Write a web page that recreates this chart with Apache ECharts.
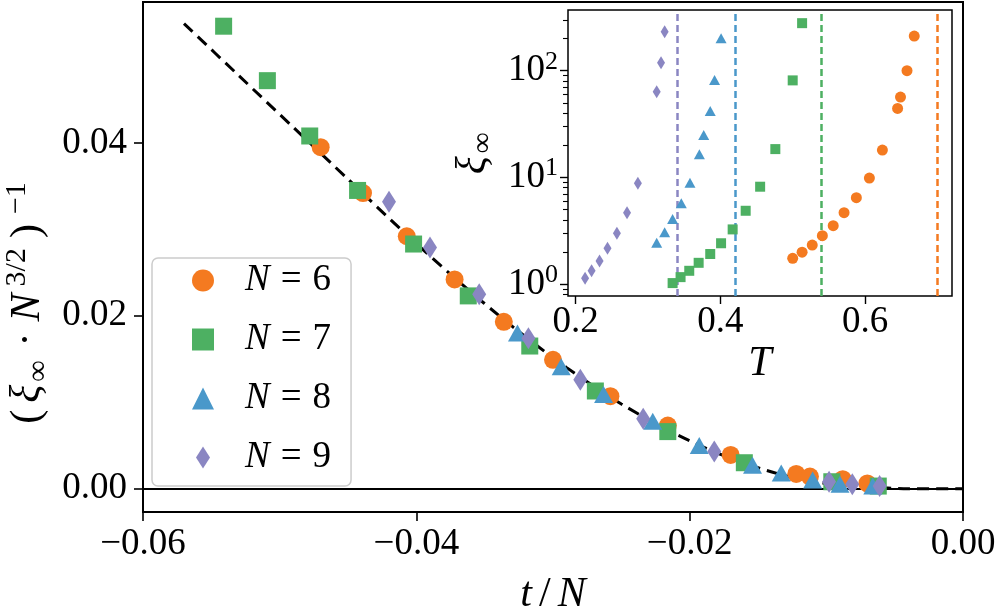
<!DOCTYPE html>
<html><head><meta charset="utf-8">
<script src="https://cdn.jsdelivr.net/npm/echarts@6/dist/echarts.min.js"></script>
<style>html,body{margin:0;padding:0;background:#fff}#c{width:997px;height:611px}</style>
</head><body><div id="c"></div>
<script>
// ---------------- data ----------------
const seriesNames = ['N = 6', 'N = 7', 'N = 8', 'N = 9'];
const colors = ['#F47A20', '#4DB062', '#4A98CA', '#8A86C2'];

// main panel: t/N  vs  (xi_inf * N^{3/2})^{-1}
const tN_6  = [-0.0470, -0.0439, -0.0407, -0.0372, -0.0336, -0.0300, -0.0258, -0.0216, -0.0170, -0.0122, -0.0112, -0.0088, -0.0070];
const inv_6 = [0.0395, 0.0342, 0.0292, 0.0242, 0.0193, 0.0149, 0.0107, 0.0073, 0.0039, 0.0017, 0.0014, 0.0011, 0.0006];
const tN_7  = [-0.0541, -0.0509, -0.0478, -0.0443, -0.0402, -0.0362, -0.0317, -0.0269, -0.0216, -0.0160, -0.0096, -0.0062];
const inv_7 = [0.0535, 0.0472, 0.0408, 0.0345, 0.0283, 0.0223, 0.0165, 0.0113, 0.0066, 0.0030, 0.0008, 0.0003];
const tN_8  = [-0.0326, -0.0294, -0.0263, -0.0227, -0.0193, -0.0154, -0.0133, -0.0110, -0.0090, -0.0066];
const inv_8 = [0.0180, 0.0141, 0.0109, 0.0078, 0.0050, 0.0027, 0.0018, 0.0010, 0.0005, 0.0003];
const tN_9  = [-0.0420, -0.0390, -0.0354, -0.0318, -0.0280, -0.0234, -0.0182, -0.0098, -0.0081, -0.0061];
const inv_9 = [0.0332, 0.0279, 0.0225, 0.0174, 0.0126, 0.0081, 0.0043, 0.0008, 0.0005, 0.0003];

// dashed collapse curve
const curveX = [-0.0570, -0.0530, -0.0490, -0.0450, -0.0410, -0.0370, -0.0330, -0.0290, -0.0250, -0.0210, -0.0170, -0.0130, -0.0100, -0.0070, -0.0040, 0.0];
const curveY = [0.0538, 0.0478, 0.0418, 0.0358, 0.0298, 0.0241, 0.0188, 0.0140, 0.0098, 0.0063, 0.0035, 0.0015, 0.0006, 0.0002, 0.0000, 0.0];

// inset: T vs xi_inf (log scale)
const T_6  = [0.500, 0.513, 0.527, 0.541, 0.556, 0.571, 0.588, 0.606, 0.624, 0.645, 0.649, 0.658, 0.668];
const xi_6 = [1.74, 1.99, 2.32, 2.84, 3.52, 4.66, 6.44, 9.85, 18.0, 44.3, 56.6, 100, 211];
const T_7  = [0.334, 0.345, 0.357, 0.370, 0.386, 0.401, 0.417, 0.435, 0.455, 0.476, 0.500, 0.513];
const xi_7 = [1.02, 1.16, 1.33, 1.58, 1.91, 2.41, 3.25, 4.86, 8.17, 18.4, 81.1, 279];
const T_8  = [0.312, 0.323, 0.334, 0.346, 0.358, 0.371, 0.377, 0.386, 0.392, 0.401];
const xi_8 = [2.44, 3.05, 4.07, 5.71, 8.90, 16.5, 24.9, 41.8, 81.6, 201];
const T_9  = [0.213, 0.222, 0.233, 0.244, 0.257, 0.271, 0.286, 0.312, 0.318, 0.323];
const xi_9 = [1.13, 1.33, 1.64, 2.16, 2.99, 4.66, 8.79, 63.4, 118.6, 231.5];
const Tc   = [0.6957, 0.5359, 0.4216, 0.3418];

// ticks
const mainXTicks = [-0.06, -0.04, -0.02, 0.0];
const mainYTicks = [0.0, 0.02, 0.04];
const insetXTicks = [0.2, 0.4, 0.6];
const insetYDecades = [1, 10, 100];
const insetYMinor = [0.8, 0.9, 2, 3, 4, 5, 6, 7, 8, 9, 20, 30, 40, 50, 60, 70, 80, 90, 200, 300];

// ---------------- build ----------------
const FF = 'Liberation Serif';
const FS = 37;
const mainX = [tN_6, tN_7, tN_8, tN_9];
const mainY = [inv_6, inv_7, inv_8, inv_9];
const insT = [T_6, T_7, T_8, T_9];
const insXi = [xi_6, xi_7, xi_8, xi_9];
const symbols = ['circle', 'rect', 'triangle', 'diamond'];
const mainSize = [18, 17, [19, 17], [14, 22]];
const insetSize = [11, 10, [11, 10], [8, 13]];
const lg = v => Math.log10(v);
const minus = s => s.replace('-', '\u2212');

const base = {fontFamily: FF, fontSize: FS, color: '#000'};
function richSet(fs, ss, lh, gap) {
  return {
    n: {fontFamily: FF, fontSize: fs, color: '#000', lineHeight: lh},
    e: {fontFamily: FF, fontSize: fs, color: '#000', lineHeight: lh, padding: [0, 11, 0, 9]},
    sl: {fontFamily: FF, fontSize: fs, color: '#000', lineHeight: lh, padding: [0, 5, 0, 5]},
    d: {fontFamily: FF, fontSize: fs, color: '#000', lineHeight: lh, padding: [0, gap + 4, 0, gap + 4]},
    p: {fontFamily: FF, fontSize: fs, color: '#000', lineHeight: lh, padding: [0, gap, 0, gap]},
    i: {fontFamily: FF, fontSize: fs, fontStyle: 'italic', color: '#000', lineHeight: lh, padding: [0, 2, 0, 2]},
    sup: {fontFamily: FF, fontSize: ss, color: '#000', lineHeight: ss, verticalAlign: 'top', padding: [0, gap, 0, gap]},
    sub: {fontFamily: FF, fontSize: ss, color: '#000', lineHeight: ss, verticalAlign: 'bottom', padding: [0, gap, 0, 1]}
  };
}
const richTick = richSet(37, 26, 44, 3);
const richLab = richSet(42, 29, 48, 3);
const richY = richSet(42, 30, 52, 5);

const series = [];
// horizontal zero line + dashed curve
series.push({
  type: 'line', xAxisIndex: 0, yAxisIndex: 0,
  data: curveX.map((x, k) => [x, curveY[k]]),
  showSymbol: false, symbol: 'none', smooth: 0.3,
  lineStyle: {color: '#000', width: 3, type: [12, 7]},
  z: 3,
  markLine: {
    silent: true, symbol: 'none', label: {show: false},
    lineStyle: {color: '#000', width: 2, type: 'solid'},
    data: [{yAxis: 0}], z: 2
  }
});
for (let s = 0; s < 4; s++) {
  series.push({
    name: seriesNames[s], type: 'scatter', xAxisIndex: 0, yAxisIndex: 0,
    symbol: symbols[s], symbolSize: mainSize[s],
    itemStyle: {color: colors[s], opacity: 1},
    data: mainX[s].map((x, k) => [x, mainY[s][k]]),
    z: 4 + s
  });
}
for (let s = 0; s < 4; s++) {
  series.push({
    name: seriesNames[s] + ' inset', type: 'scatter', xAxisIndex: 1, yAxisIndex: 1,
    symbol: symbols[s], symbolSize: insetSize[s],
    itemStyle: {color: colors[s], opacity: 1},
    data: insT[s].map((t, k) => [t, lg(insXi[s][k])]),
    z: 12,
    markLine: {
      silent: true, symbol: 'none', label: {show: false}, z: 11,
      lineStyle: {color: colors[s], width: 2.5, type: [7, 4], opacity: 1},
      data: [{xAxis: Tc[s]}]
    }
  });
}

const noLine = {show: false, onZero: false};
const option = {
  animation: false,
  backgroundColor: '#fff',
  grid: [
    {left: 143, top: 2, width: 820, height: 510, outerBoundsMode: 'none', containLabel: false,
     show: true, borderColor: '#000', borderWidth: 2, backgroundColor: 'transparent', z: 1},
    {left: 568, top: 10, width: 384, height: 286, outerBoundsMode: 'none', containLabel: false,
     show: true, borderColor: '#000', borderWidth: 1.5, backgroundColor: '#fff', z: 8}
  ],
  xAxis: [
    {
      gridIndex: 0, type: 'value', position: 'bottom', min: -0.06, max: 0,
      axisLine: noLine, splitLine: {show: false},
      axisTick: {show: true, length: 9, lineStyle: {color: '#000', width: 1.6}, customValues: mainXTicks},
      axisLabel: Object.assign({margin: 12, lineHeight: 40, customValues: mainXTicks,
        formatter: v => minus(v.toFixed(2))}, base),
      name: '{i|t}{sl|/}{i|N}', nameLocation: 'middle', nameGap: 59,
      nameTextStyle: {rich: richLab}
    },
    {
      gridIndex: 1, type: 'value', position: 'bottom', min: 0.1894, max: 0.7202,
      axisLine: noLine, splitLine: {show: false},
      axisTick: {show: true, length: 8, lineStyle: {color: '#000', width: 1.4}, customValues: insetXTicks},
      axisLabel: Object.assign({margin: 6, lineHeight: 40, customValues: insetXTicks,
        formatter: v => v.toFixed(1)}, base),
      name: '{i|T}', nameLocation: 'middle', nameGap: 40,
      nameTextStyle: {rich: richLab}
    }
  ],
  yAxis: [
    {
      gridIndex: 0, type: 'value', position: 'left', min: -0.0027, max: 0.0563,
      axisLine: noLine, splitLine: {show: false},
      axisTick: {show: true, length: 9, lineStyle: {color: '#000', width: 1.6}, customValues: mainYTicks},
      axisLabel: Object.assign({margin: 16, customValues: mainYTicks,
        formatter: v => minus(v.toFixed(2))}, base)
    },
    {
      gridIndex: 1, type: 'value', position: 'left', min: -0.1125, max: 2.569,
      axisLine: noLine, splitLine: {show: false},
      axisTick: {show: true, length: 8, lineStyle: {color: '#000', width: 1.4}, customValues: insetYDecades.map(lg)},
      axisLabel: {margin: 10, customValues: insetYDecades.map(lg),
        formatter: v => '{b|10}{s|' + Math.round(v) + '}',
        rich: {
          b: {fontFamily: FF, fontSize: FS, color: '#000', lineHeight: 44},
          s: {fontFamily: FF, fontSize: 26, color: '#000', lineHeight: 26, verticalAlign: 'top'}
        }},
      name: '{i|\u03BE}{sub|\u221E}', nameLocation: 'middle', nameGap: 70, nameRotate: 90,
      nameTextStyle: {rich: richLab}
    },
    {
      gridIndex: 1, type: 'value', position: 'left', offset: 0, min: -0.1125, max: 2.569,
      axisLine: noLine, splitLine: {show: false},
      axisTick: {show: true, length: 5, lineStyle: {color: '#000', width: 1.1}, customValues: insetYMinor.map(lg)},
      axisLabel: {show: false}
    }
  ],
  legend: {
    left: 152, top: 258, orient: 'vertical', selectedMode: false,
    data: [
      {name: seriesNames[0], icon: 'circle'},
      {name: seriesNames[1], icon: 'rect'},
      {name: seriesNames[2], icon: 'triangle'},
      {name: seriesNames[3], icon: 'path://M7,0 L14,11 L7,22 L0,11 Z'}
    ],
    itemWidth: 22, itemHeight: 22, itemGap: 22,
    padding: [4, 20, 10, 40],
    backgroundColor: 'rgba(255,255,255,0.85)',
    borderColor: '#cccccc', borderWidth: 1.5, borderRadius: 6,
    formatter: name => '{i|N}{e|=}{n|' + name.slice(-1) + '}',
    textStyle: {padding: [0, 0, 0, 24], rich: richTick}
  },
  graphic: [{
    type: 'text', x: 28, y: 303, rotation: Math.PI / 2,
    style: {
      text: '{p|(}{i|\u03BE}{sub|\u221E}{d|\u00B7}{i|N}{sup|3/2}{p|)}{sup|\u22121}',
      rich: richY, align: 'center', verticalAlign: 'middle',
      textAlign: 'center', textVerticalAlign: 'middle'
    }
  }],
  series: series
};

const chart = echarts.init(document.getElementById('c'), null, {renderer: 'canvas'});
chart.setOption(option);
</script>
</body></html>
